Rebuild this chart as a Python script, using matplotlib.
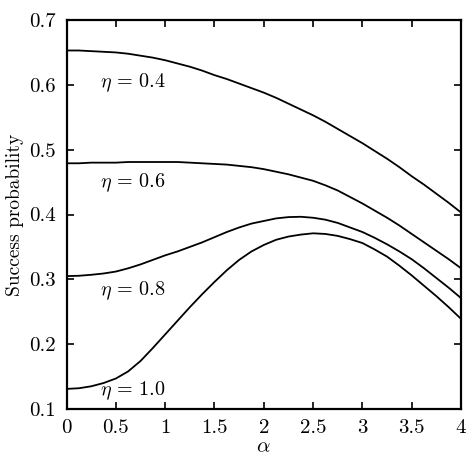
import matplotlib
matplotlib.use("Agg")
import matplotlib.pyplot as plt

plt.rcParams['font.family'] = 'serif'
plt.rcParams['font.serif'] = ['cmr10', 'DejaVu Serif']
plt.rcParams['mathtext.fontset'] = 'cm'
plt.rcParams['axes.formatter.use_mathtext'] = True

alpha = [0, 0.125, 0.25, 0.375, 0.5, 0.625, 0.75, 0.875, 1.0, 1.125, 1.25, 1.375, 1.5, 1.625, 1.75, 1.875,
         2.0, 2.125, 2.25, 2.375, 2.5, 2.625, 2.75, 2.875, 3.0, 3.125, 3.25, 3.375, 3.5, 3.625, 3.75, 3.875, 4.0]
p_eta04 = [0.653, 0.653, 0.652, 0.651, 0.650, 0.648, 0.645, 0.642, 0.638, 0.633, 0.628, 0.622, 0.615, 0.609, 0.602, 0.595,
           0.588, 0.580, 0.571, 0.562, 0.553, 0.543, 0.532, 0.521, 0.510, 0.498, 0.486, 0.473, 0.459, 0.446, 0.432, 0.418, 0.403]
p_eta06 = [0.479, 0.479, 0.480, 0.480, 0.480, 0.481, 0.481, 0.481, 0.481, 0.481, 0.480, 0.479, 0.478, 0.477, 0.475, 0.473,
           0.470, 0.466, 0.462, 0.457, 0.452, 0.445, 0.437, 0.427, 0.417, 0.406, 0.395, 0.383, 0.370, 0.357, 0.344, 0.331, 0.317]
p_eta08 = [0.305, 0.3055, 0.307, 0.309, 0.312, 0.317, 0.323, 0.330, 0.337, 0.343, 0.350, 0.357, 0.365, 0.373, 0.380, 0.386,
           0.390, 0.394, 0.396, 0.3965, 0.395, 0.392, 0.387, 0.380, 0.373, 0.364, 0.354, 0.343, 0.331, 0.317, 0.302, 0.287, 0.271]
p_eta10 = [0.131, 0.132, 0.135, 0.140, 0.147, 0.158, 0.174, 0.194, 0.215, 0.236, 0.257, 0.277, 0.296, 0.314, 0.330, 0.343,
           0.353, 0.361, 0.366, 0.369, 0.371, 0.370, 0.367, 0.362, 0.356, 0.346, 0.335, 0.321, 0.306, 0.290, 0.274, 0.257, 0.239]

series = [p_eta04, p_eta06, p_eta08, p_eta10]
labels = [r'$\eta\,=\,0.4$', r'$\eta\,=\,0.6$', r'$\eta\,=\,0.8$', r'$\eta\,=\,1.0$']
label_y = [0.603, 0.449, 0.282, 0.128]

xticks = [0, 0.5, 1, 1.5, 2, 2.5, 3, 3.5, 4]
xticklabels = ['0', '0.5', '1', '1.5', '2', '2.5', '3', '3.5', '4']
yticks = [0.1, 0.2, 0.3, 0.4, 0.5, 0.6, 0.7]
yticklabels = ['0.1', '0.2', '0.3', '0.4', '0.5', '0.6', '0.7']

fig = plt.figure(figsize=(4.7, 4.7), dpi=100)
ax = fig.add_axes([0.1415, 0.1298, 0.8395, 0.8276])

for s in series:
    ax.plot(alpha, s, color='black', lw=1.3, solid_joinstyle='round', solid_capstyle='round')

for lab, ly in zip(labels, label_y):
    ax.text(0.34, ly, lab, fontsize=14.5, va='center', ha='left')

ax.set_xlim(0, 4)
ax.set_ylim(0.1, 0.7)
ax.set_xticks(xticks)
ax.set_xticklabels(xticklabels, fontsize=15)
ax.set_yticks(yticks)
ax.set_yticklabels(yticklabels, fontsize=15)
ax.tick_params(direction='in', top=True, right=True, length=5, width=1.2)
ax.tick_params(axis='x', pad=7)
ax.tick_params(axis='y', pad=8)
for sp in ax.spines.values():
    sp.set_linewidth(1.6)

ax.set_xlabel(r'$\alpha$', fontsize=15, labelpad=1)
ax.set_ylabel('Success probability', fontsize=14, labelpad=3)

fig.savefig('out.png', dpi=100)
